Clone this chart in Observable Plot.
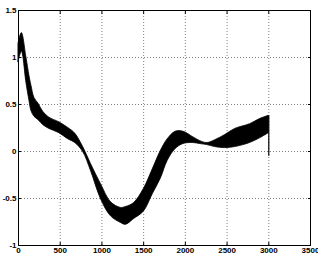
<!DOCTYPE html>
<html>
<head>
<meta charset="utf-8">
<script src="https://cdn.jsdelivr.net/npm/d3@7"></script>
<script src="https://cdn.jsdelivr.net/npm/@observablehq/plot@0.6"></script>
<style>
  html, body { margin: 0; padding: 0; background: #fff; }
  #chart svg { display: block; }
</style>
</head>
<body>
<div id="chart"></div>
<script>
// Band samples: x position, upper and lower envelope of the curves
const xs     = [0, 40, 95, 131, 155, 191, 238, 298, 370, 489, 596, 680, 775, 870, 990, 1109, 1228, 1288, 1383, 1502, 1609, 1705, 1788, 1883, 1978, 2097, 2180, 2263, 2358, 2477, 2596, 2775, 2894, 3000];
const upper  = [1.15, 1.26, 1.00, 0.805, 0.70, 0.57, 0.51, 0.42, 0.36, 0.31, 0.25, 0.19, 0.047, -0.135, -0.35, -0.54, -0.60, -0.59, -0.55, -0.40, -0.19, 0.004, 0.13, 0.21, 0.21, 0.15, 0.11, 0.09, 0.12, 0.175, 0.24, 0.29, 0.345, 0.38];
const lower  = [0.95, 1.06, 0.73, 0.54, 0.43, 0.37, 0.335, 0.28, 0.24, 0.195, 0.13, 0.09, -0.006, -0.21, -0.51, -0.69, -0.76, -0.78, -0.72, -0.64, -0.455, -0.29, -0.10, 0.026, 0.08, 0.09, 0.079, 0.068, 0.047, 0.036, 0.047, 0.09, 0.14, 0.195];
// Final drop of one trace at the right end
const endX = [3000];
const endTop = [0.38];
const endBottom = [-0.05];
// Tick values
const xTicks = [0, 500, 1000, 1500, 2000, 2500, 3000, 3500];
const yTicks = [-1, -0.5, 0, 0.5, 1, 1.5];

const band = xs.map((x, i) => ({x, top: upper[i], bottom: lower[i]}));
const drop = endX.map((x, i) => ({x, y1: endBottom[i], y2: endTop[i]}));

const font = "Liberation Sans, Arial, sans-serif";

const chart = Plot.plot({
  width: 318,
  height: 257,
  marginLeft: 18,
  marginRight: 8,
  marginTop: 10,
  marginBottom: 12,
  style: {fontFamily: font, fontSize: "8px", fontWeight: "bold", background: "#fff", color: "#000"},
  x: {domain: [0, 3500], ticks: xTicks},
  y: {domain: [-1, 1.5], ticks: yTicks},
  marks: [
    Plot.gridX(xTicks.slice(1, -1), {stroke: "#000", strokeOpacity: 0.5, strokeDasharray: "1,2"}),
    Plot.gridY(yTicks.slice(1, -1), {stroke: "#000", strokeOpacity: 0.5, strokeDasharray: "1,2"}),
    Plot.areaY(band, {x: "x", y1: "bottom", y2: "top", fill: "#000", stroke: "#000", strokeWidth: 0.8, curve: "catmull-rom"}),
    Plot.ruleX(drop, {x: "x", y1: "y1", y2: "y2", stroke: "#000", strokeWidth: 1.2}),
    Plot.frame({stroke: "#000", strokeWidth: 1}),
    Plot.axisX(xTicks, {anchor: "bottom", tickSize: 0, tickPadding: 2, label: null, fontWeight: "bold", tickFormat: d => String(d)}),
    Plot.axisX(xTicks, {anchor: "bottom", tickSize: -3, text: null, label: null}),
    Plot.axisX(xTicks, {anchor: "top", tickSize: -3, text: null, label: null}),
    Plot.axisY(yTicks, {anchor: "left", tickSize: 0, tickPadding: 2, label: null, fontWeight: "bold", tickFormat: d => String(d)}),
    Plot.axisY(yTicks, {anchor: "left", tickSize: -3, text: null, label: null}),
    Plot.axisY(yTicks, {anchor: "right", tickSize: -3, text: null, label: null})
  ]
});
document.getElementById("chart").appendChild(chart);
</script>
</body>
</html>
